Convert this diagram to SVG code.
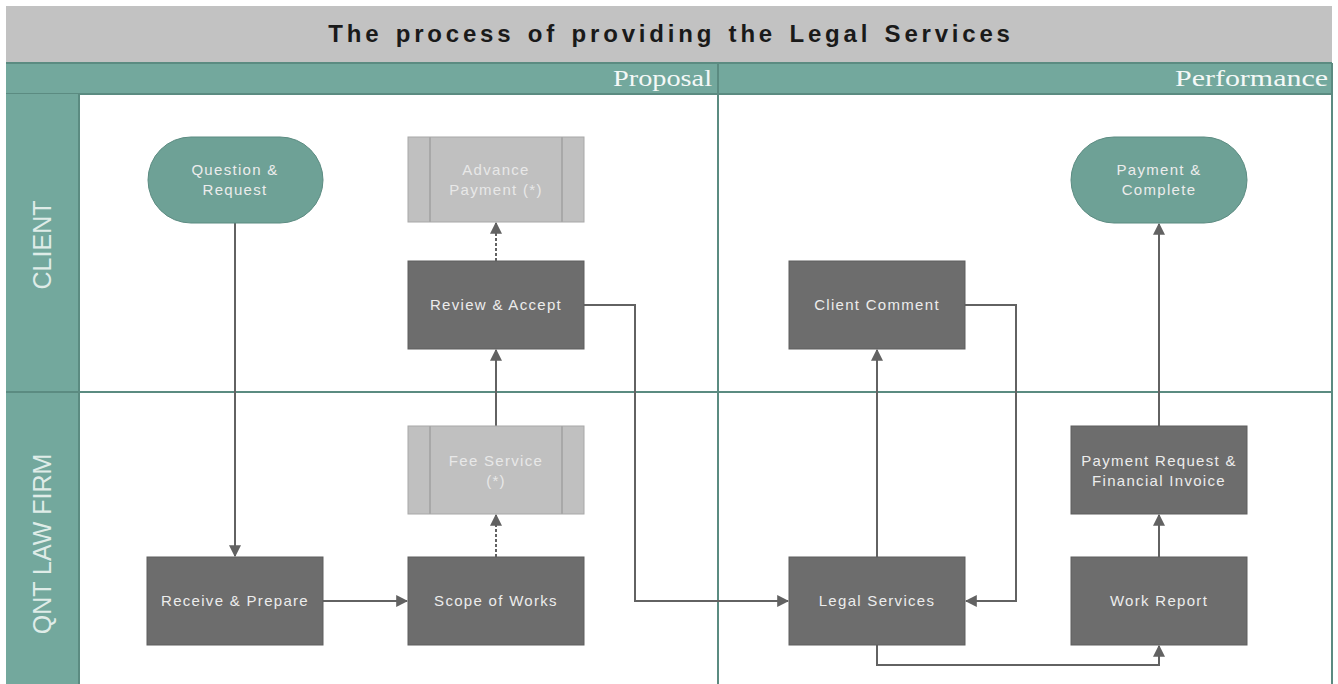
<svg xmlns="http://www.w3.org/2000/svg" width="1338" height="684" viewBox="0 0 1338 684">
<style>
.box{fill:#6d6d6d;stroke:#5e5e5e;stroke-width:1}
.sub{fill:#c0c0c0;stroke:#a8a8a8;stroke-width:1}
.term{fill:#6ea196;stroke:#5b8b81;stroke-width:1}
.t{font-family:"Liberation Sans",Arial,sans-serif;font-size:15px;letter-spacing:1.3px;fill:#ececec;text-anchor:middle}
.ts{font-family:"Liberation Sans",Arial,sans-serif;font-size:15px;letter-spacing:1.3px;fill:#e8e8e8;text-anchor:middle}
.c{fill:none;stroke:#626262;stroke-width:2}
.d{fill:none;stroke:#626262;stroke-width:2;stroke-dasharray:3 2}
.lane{font-family:"Liberation Sans",Arial,sans-serif;font-size:25px;fill:#dfece8;text-anchor:middle}
.ph{font-family:"Liberation Serif","Times New Roman",serif;font-size:23px;fill:#f4f8f7;text-anchor:end}
</style>
<defs>
<marker id="ah2" viewBox="0 0 10 10" refX="9" refY="5" markerWidth="12" markerHeight="12" markerUnits="userSpaceOnUse" orient="auto">
<path d="M0,0 L10,5 L0,10 z" fill="#626262"/>
</marker>
</defs>
<rect x="0" y="0" width="1338" height="684" fill="#ffffff"/>
<g id="frame">
<rect x="6" y="6" width="1326" height="57" fill="#c2c2c2"/>
<text x="671" y="42" font-family="'Liberation Sans',Arial,sans-serif" font-size="24" font-weight="bold" letter-spacing="3.8" word-spacing="3" text-anchor="middle" fill="#1a1a1a">The process of providing the Legal Services</text>
<rect x="6" y="63" width="1326" height="31" fill="#73a89d"/>
<line x1="6" y1="63" x2="1332" y2="63" stroke="#5b8b81" stroke-width="2"/>
<line x1="6" y1="94" x2="1332" y2="94" stroke="#5b8b81" stroke-width="2"/>
<text class="ph" x="712" y="86" textLength="99" lengthAdjust="spacingAndGlyphs">Proposal</text>
<text class="ph" x="1328" y="86" textLength="153" lengthAdjust="spacingAndGlyphs">Performance</text>
<rect x="6" y="94" width="73" height="590" fill="#73a89d"/>
<line x1="79" y1="94" x2="79" y2="684" stroke="#5b8b81" stroke-width="2"/>
<line x1="6" y1="392" x2="1332" y2="392" stroke="#5b8b81" stroke-width="2"/>
<line x1="718" y1="63" x2="718" y2="684" stroke="#5b8b81" stroke-width="2"/>
<line x1="1332" y1="63" x2="1332" y2="684" stroke="#5b8b81" stroke-width="2"/>
<text class="lane" transform="translate(51,245) rotate(-90)">CLIENT</text>
<text class="lane" transform="translate(51,544) rotate(-90)">QNT LAW FIRM</text>
</g>
<g id="connectors">
<path class="c" d="M235,223 L235,556" marker-end="url(#ah2)"/>
<path class="c" d="M323,601 L407,601" marker-end="url(#ah2)"/>
<path class="d" d="M496,557 L496,515" marker-end="url(#ah2)"/>
<path class="c" d="M496,426 L496,350" marker-end="url(#ah2)"/>
<path class="d" d="M496,261 L496,223" marker-end="url(#ah2)"/>
<path class="c" d="M584,305 L635,305 L635,601 L788,601" marker-end="url(#ah2)"/>
<path class="c" d="M877,557 L877,350" marker-end="url(#ah2)"/>
<path class="c" d="M965,305 L1016,305 L1016,601 L966,601" marker-end="url(#ah2)"/>
<path class="c" d="M877,645 L877,665 L1159,665 L1159,646" marker-end="url(#ah2)"/>
<path class="c" d="M1159,557 L1159,515" marker-end="url(#ah2)"/>
<path class="c" d="M1159,426 L1159,224" marker-end="url(#ah2)"/>
</g>
<g id="question-request">
<rect class="term" x="148" y="137" width="175" height="86" rx="43" ry="43"/>
<text class="t" x="235" y="175">Question &amp;</text>
<text class="t" x="235" y="195">Request</text>
</g>
<g id="advance-payment">
<rect class="sub" x="408" y="137" width="176" height="85"/>
<line x1="430" y1="137" x2="430" y2="222" stroke="#a8a8a8" stroke-width="2"/>
<line x1="562" y1="137" x2="562" y2="222" stroke="#a8a8a8" stroke-width="2"/>
<text class="ts" x="496" y="175">Advance</text>
<text class="ts" x="496" y="195">Payment (*)</text>
</g>
<g id="review-accept">
<rect class="box" x="408" y="261" width="176" height="88"/>
<text class="t" x="496" y="310">Review &amp; Accept</text>
</g>
<g id="fee-service">
<rect class="sub" x="408" y="426" width="176" height="88"/>
<line x1="430" y1="426" x2="430" y2="514" stroke="#a8a8a8" stroke-width="2"/>
<line x1="562" y1="426" x2="562" y2="514" stroke="#a8a8a8" stroke-width="2"/>
<text class="ts" x="496" y="466">Fee Service</text>
<text class="ts" x="496" y="486">(*)</text>
</g>
<g id="receive-prepare">
<rect class="box" x="147" y="557" width="176" height="88"/>
<text class="t" x="235" y="606">Receive &amp; Prepare</text>
</g>
<g id="scope-of-works">
<rect class="box" x="408" y="557" width="176" height="88"/>
<text class="t" x="496" y="606">Scope of Works</text>
</g>
<g id="client-comment">
<rect class="box" x="789" y="261" width="176" height="88"/>
<text class="t" x="877" y="310">Client Comment</text>
</g>
<g id="legal-services">
<rect class="box" x="789" y="557" width="176" height="88"/>
<text class="t" x="877" y="606">Legal Services</text>
</g>
<g id="payment-complete">
<rect class="term" x="1071" y="137" width="176" height="86" rx="43" ry="43"/>
<text class="t" x="1159" y="175">Payment &amp;</text>
<text class="t" x="1159" y="195">Complete</text>
</g>
<g id="payment-request">
<rect class="box" x="1071" y="426" width="176" height="88"/>
<text class="t" x="1159" y="466">Payment Request &amp;</text>
<text class="t" x="1159" y="486">Financial Invoice</text>
</g>
<g id="work-report">
<rect class="box" x="1071" y="557" width="176" height="88"/>
<text class="t" x="1159" y="606">Work Report</text>
</g>
</svg>
